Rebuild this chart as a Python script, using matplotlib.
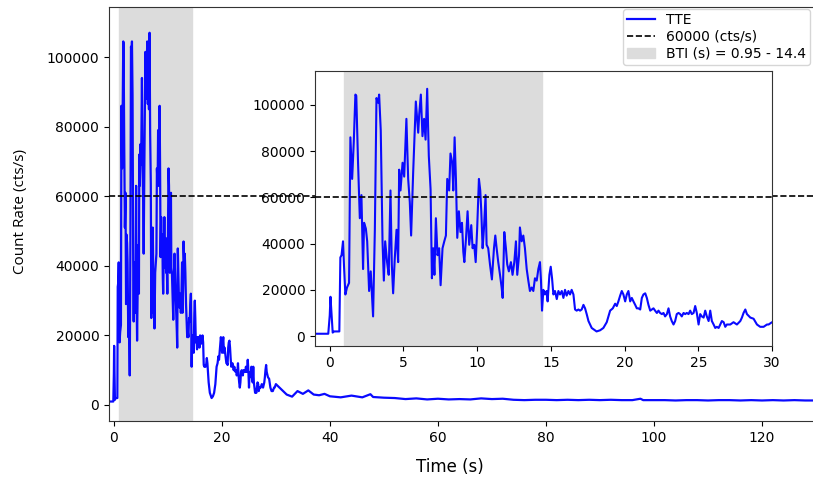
import matplotlib
matplotlib.use("Agg")
import matplotlib.pyplot as plt

# ---- data ----
burst_t = [-1.0, -0.1, 0.0, 0.05, 0.2, 0.3, 0.65, 0.72, 0.8, 0.9, 0.97, 1.06, 1.17, 1.31,
           1.4, 1.52, 1.63, 1.74, 1.8, 1.92, 2.04, 2.15, 2.26, 2.33, 2.45, 2.54, 2.67, 2.78,
           2.94, 3.06, 3.17, 3.28, 3.35, 3.46, 3.58, 3.67, 3.76, 3.89, 4.0, 4.12, 4.21, 4.3,
           4.41, 4.53, 4.64, 4.71, 4.8, 4.94, 5.05, 5.2, 5.32, 5.43, 5.52, 5.66, 5.84, 6.0,
           6.07, 6.18, 6.29, 6.4, 6.5, 6.61, 6.72, 6.84, 6.93, 7.02, 7.1, 7.2, 7.31, 7.42,
           7.52, 7.65, 7.77, 7.88, 7.97, 8.1, 8.19, 8.31, 8.38, 8.47, 8.56, 8.65, 8.76, 8.87,
           8.97, 9.06, 9.13, 9.24, 9.35, 9.46, 9.6, 9.69, 9.8, 9.9, 10.0, 10.12, 10.21, 10.28,
           10.37, 10.46, 10.57, 10.64, 10.75, 10.87, 11.0, 11.14, 11.23, 11.32, 11.43, 11.55,
           11.66, 11.73, 11.84, 11.95, 12.04, 12.15, 12.29, 12.4, 12.52, 12.63, 12.72, 12.84,
           12.9, 13.02, 13.13, 13.24, 13.36, 13.47, 13.58, 13.7, 13.81, 13.92, 14.04, 14.15,
           14.26, 14.33, 14.4, 14.49, 14.6, 14.71, 14.78, 14.9, 14.99, 15.08, 15.17, 15.28,
           15.4, 15.51, 15.62, 15.74, 15.85, 15.96, 16.07, 16.19, 16.3, 16.41, 16.53, 16.64,
           16.75, 16.87, 16.98, 17.09, 17.21, 17.32, 17.43, 17.55, 17.66, 17.77, 17.88, 18.1,
           18.34, 18.56, 18.79, 19.02, 19.2, 19.36, 19.47, 19.58, 19.7, 19.81, 19.92, 20.04,
           20.15, 20.26, 20.38, 20.49, 20.6, 20.72, 20.83, 20.94, 21.06, 21.17, 21.28, 21.4,
           21.51, 21.62, 21.74, 21.85, 21.96, 22.07, 22.19, 22.3, 22.41, 22.53, 22.64, 22.75,
           22.87, 22.98, 23.09, 23.2, 23.32, 23.43, 23.54, 23.66, 23.77, 23.88, 24.0, 24.11,
           24.22, 24.34, 24.45, 24.56, 24.68, 24.79, 24.9, 25.02, 25.13, 25.24, 25.36, 25.47,
           25.58, 25.7, 25.81, 25.92, 26.04, 26.15, 26.26, 26.38, 26.49, 26.6, 26.72, 26.83,
           26.94, 27.17, 27.39, 27.62, 27.85, 27.96, 28.07, 28.19, 28.3, 28.53, 28.75, 28.98,
           29.2, 29.43, 29.66, 29.77, 30.0]
burst_rate = [1000, 1000, 9000, 17000, 1500, 2000, 2000, 34000, 35000, 41000, 30000, 18000, 21000, 23000,
              86000, 68000, 84000, 104500, 104000, 75000, 51000, 61000, 29000, 49000, 46500, 41000, 19500, 28000,
              8500, 46000, 103000, 101000, 104500, 89000, 41000, 24000, 41000, 32000, 26500, 63000, 31000, 18500,
              33500, 46000, 32000, 72000, 63000, 75000, 69000, 94000, 68000, 58000, 43500, 71000, 101500, 88000,
              96000, 104500, 86500, 94000, 85000, 107000, 78000, 63500, 25000, 38000, 26500, 51000, 35000, 38000,
              22000, 38000, 41000, 43500, 68000, 63000, 79000, 75000, 63000, 86000, 68000, 42500, 54000, 45000,
              49000, 36500, 32000, 42000, 54000, 39500, 48000, 38000, 39500, 32000, 46500, 68000, 63000, 54000,
              38000, 46500, 61000, 39500, 38000, 31000, 24500, 38000, 43500, 38000, 32000, 26500,
              21000, 16500, 45000, 38000, 31000, 28000, 32000, 26500, 32000, 41000, 26500, 35000,
              47000, 41000, 43500, 38000, 29000, 24000, 19500, 21000, 19500, 25000, 24000, 29000,
              32000, 24000, 11000, 20000, 18000, 19500, 15000, 26500, 30000, 25000, 18000, 19500,
              16000, 19500, 18000, 19500, 16500, 20000, 17500, 19500, 18000, 20000, 18000, 11500,
              11000, 11500, 11000, 11500, 13500, 12000, 9500, 6500, 5000, 3500, 3000, 2000,
              2500, 3500, 6000, 11000, 12000, 14000, 13000, 15000, 17500, 19500, 18000, 15000,
              18000, 19500, 15000, 16500, 15000, 13500, 12000, 12000, 11500, 16500, 18000, 18500,
              16500, 13500, 11000, 11500, 12000, 11000, 10000, 11000, 10000, 9500, 10000, 8500,
              9500, 12000, 8500, 6500, 5000, 6500, 9500, 10000, 9500, 8500, 10000, 9500,
              10000, 9500, 11000, 9500, 10000, 13000, 10000, 5000, 9500, 8500, 8000, 11000,
              8500, 6500, 11000, 6500, 5000, 3500, 4000, 3500, 5000, 6500, 6000, 4000,
              5000, 5000, 6000, 5000, 6500, 8000, 10000, 11500, 9500, 8000, 7500, 5000,
              4000, 4000, 5000, 5000, 6000]
tail_t = [31, 32, 33, 34, 35, 36, 37, 38, 39, 40, 42, 44, 46, 47.5, 48, 50, 52, 54, 56, 58,
          60, 62, 64, 66, 68, 70, 72, 74, 76, 78, 80, 82, 84, 86, 88, 90, 92, 94, 96, 97.5,
          98, 100, 102, 104, 106, 108, 110, 112, 114, 116, 118, 120, 122, 124, 126, 128, 131]
tail_rate = [4500, 3000, 2400, 4000, 3200, 4200, 3000, 2800, 3200, 2500, 2200, 2700, 2200, 3100,
             2300, 2100, 2000, 1700, 1900, 1600, 1800, 1600, 1700, 1600, 1900, 1700, 1800, 1500,
             1400, 1500, 1500, 1400, 1500, 1400, 1500, 1400, 1500, 1400, 1400, 1800, 1400, 1400,
             1400, 1300, 1400, 1400, 1300, 1400, 1400, 1300, 1400, 1300, 1400, 1300, 1400, 1300,
             1300]
time = burst_t + tail_t
rate = burst_rate + tail_rate

threshold = 60000
bti_start, bti_end = 0.95, 14.4
x_ticks_main = [0, 20, 40, 60, 80, 100, 120]
x_ticks_inset = [0, 5, 10, 15, 20, 25, 30]
y_ticks = [0, 20000, 40000, 60000, 80000, 100000]

# ---- figure ----
fig = plt.figure(figsize=(8.13, 4.79), dpi=100)
ax = fig.add_axes([109/813, 58/479, (822-109)/813, 414/479])
line_col = "#0a0aff"
shade_col = "#dcdcdc"

ax.axvspan(bti_start, bti_end, color=shade_col, label=f"BTI (s) = {bti_start} - {bti_end}", zorder=0)
ax.plot(time, rate, color=line_col, lw=1.6, label="TTE", zorder=2)
ax.axhline(threshold, color="black", ls="--", lw=1.2, label="60000 (cts/s)", zorder=3)
ax.set_xlim(-0.9, (822-114)/5.4)
ax.set_ylim(-4600, 114400)
ax.set_xticks(x_ticks_main)
ax.set_yticks(y_ticks)
ax.spines["right"].set_visible(False)
for s in ax.spines.values():
    s.set_color("#333333")
ax.tick_params(labelsize=10)
ax.set_xlabel("Time (s)", fontsize=12)
ax.xaxis.set_label_coords((450-109)/713, (421-458)/414)
ax.set_ylabel("Count Rate (cts/s)", fontsize=11, family=["Open Sans", "DejaVu Sans"])
ax.yaxis.set_label_coords((28-109)/713, (421-212)/414)

handles, labels = ax.get_legend_handles_labels()
order = [1, 2, 0]
leg = ax.legend([handles[i] for i in order], [labels[i] for i in order],
                loc="upper right", bbox_to_anchor=(810/813, 1 - 9/479),
                bbox_transform=fig.transFigure, borderaxespad=0, fontsize=10,
                labelspacing=0.2, borderpad=0.3, handlelength=2.0)

# ---- inset ----
ax2 = fig.add_axes([315/813, (479-346)/479, 457/813, 275/479])
ax2.axvspan(bti_start, bti_end, color=shade_col, zorder=0)
ax2.plot(time, rate, color=line_col, lw=1.5, zorder=2)
ax2.axhline(threshold, color="black", ls="--", lw=1.2, zorder=3)
ax2.set_xlim(-1.0, 30.0)
ax2.set_ylim(-4300, 114700)
ax2.set_xticks(x_ticks_inset)
ax2.set_yticks(y_ticks)
for s in ax2.spines.values():
    s.set_color("#333333")
ax2.tick_params(labelsize=10)

fig.savefig("out.png", dpi=100)
